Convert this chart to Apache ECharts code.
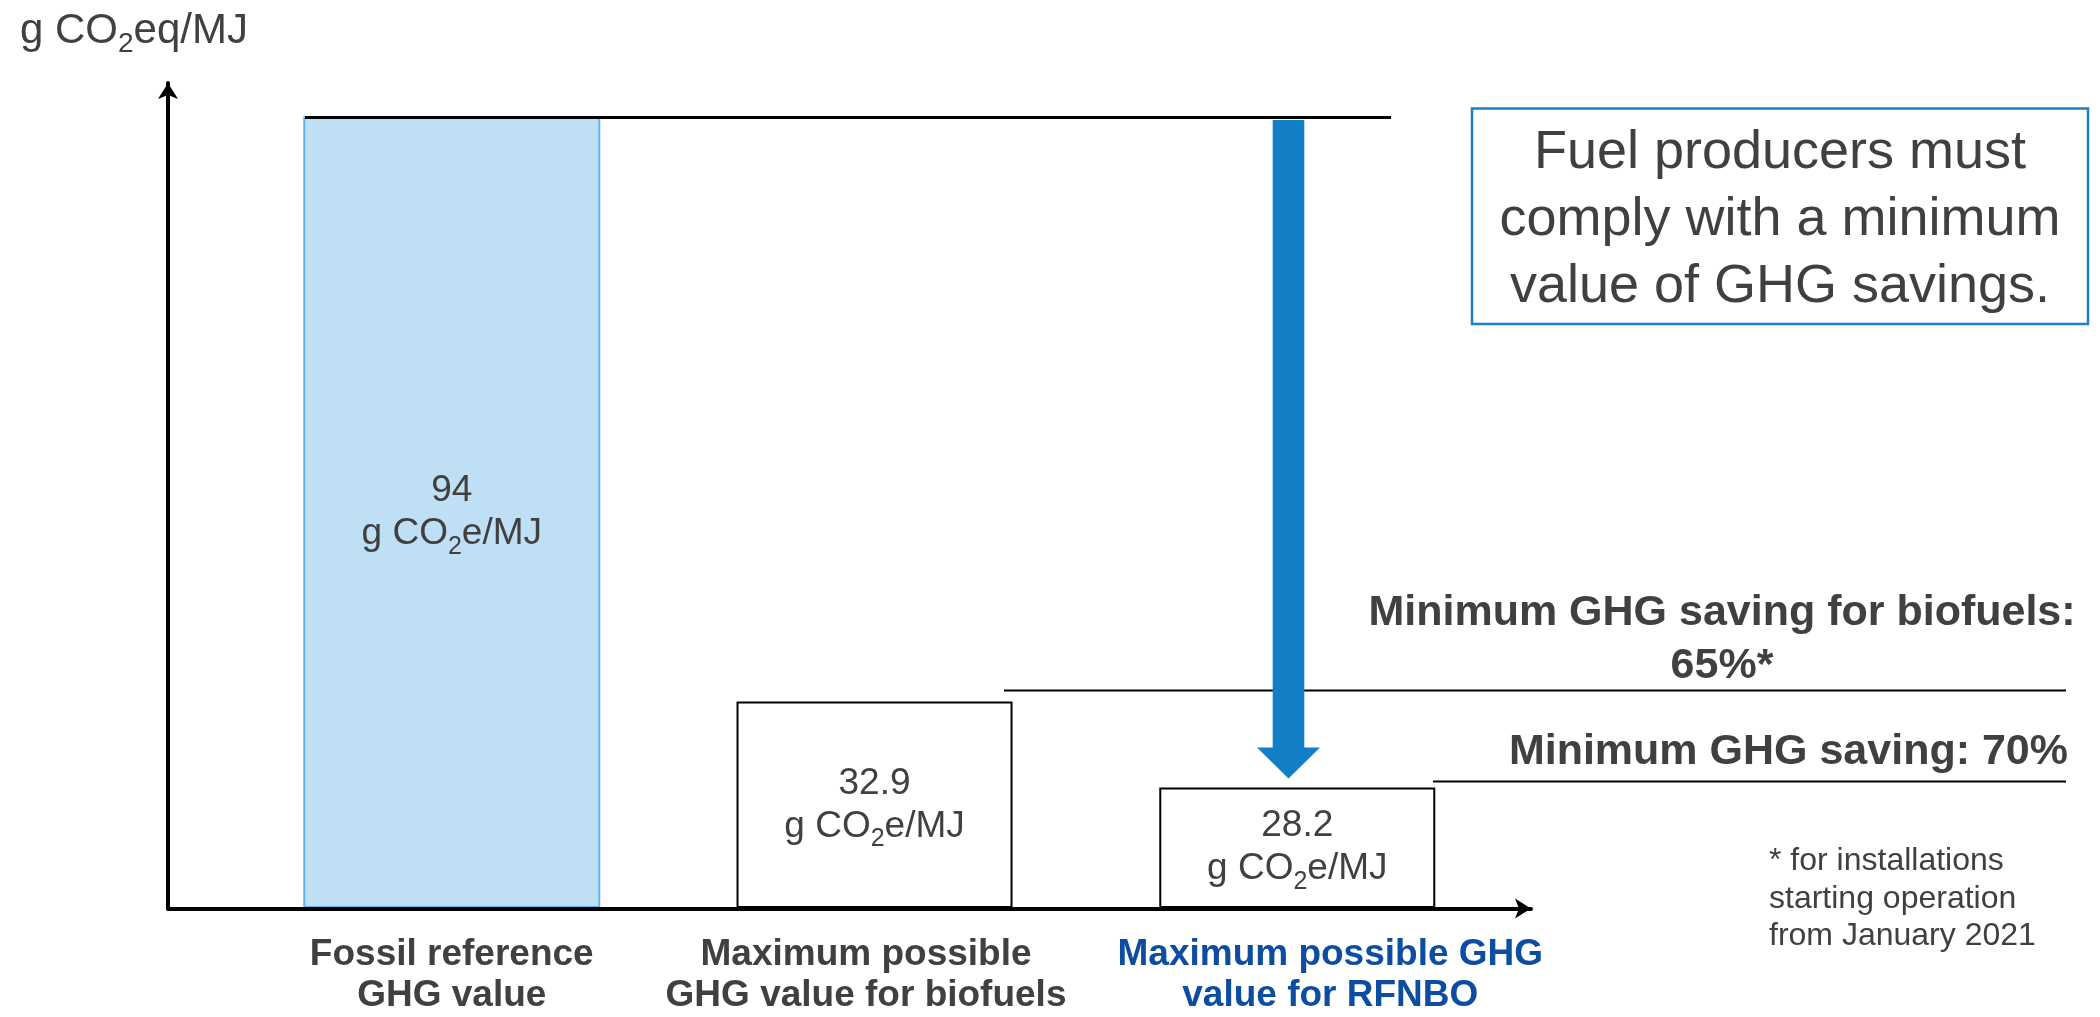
<!DOCTYPE html>
<html>
<head>
<meta charset="utf-8">
<script src="https://cdn.jsdelivr.net/npm/echarts@6/dist/echarts.min.js"></script>
<style>
html,body{margin:0;padding:0;background:#ffffff;}
#chart{width:2100px;height:1017px;}
</style>
</head>
<body>
<div id="chart"></div>
<script>
// ---- data ----
const categories = ['Fossil reference\nGHG value', 'Maximum possible\nGHG value for biofuels', 'Maximum possible GHG\nvalue for RFNBO'];
const values = [94, 32.9, 28.2];
const valueLabels = ['94', '32.9', '28.2'];
const thresholdLabels = ['Minimum GHG saving for biofuels:\n65%*', 'Minimum GHG saving: 70%'];
const thresholdValues = [32.9, 28.2];
const boxText = 'Fuel producers must\ncomply with a minimum\nvalue of GHG savings.';
const footnote = '* for installations\nstarting operation\nfrom January 2021';

// ---- style ----
const FONT = '"Liberation Sans", Arial, Helvetica, sans-serif';
const GRAY = '#404040';
const BLUE = '#127ec6';
const barStyles = [
  { fill: '#bfdff5', stroke: '#5fb3ee', width: 295 },
  { fill: '#ffffff', stroke: '#000000', width: 274 },
  { fill: '#ffffff', stroke: '#000000', width: 274 }
];
const catLabelStyles = [
  {},
  { padding: [0, 17, 0, 0] },
  { padding: [0, 0, 0, 66], color: '#0c4da2' }
];

function subRich(size, sub, lh, pad, color) {
  return {
    m: { fontSize: size, lineHeight: lh, fontFamily: FONT, fill: color, color: color, verticalAlign: 'middle' },
    s: { fontSize: sub, lineHeight: lh, fontFamily: FONT, fill: color, color: color, verticalAlign: 'middle', padding: [pad, 0, 0, 0] }
  };
}

const chart = echarts.init(document.getElementById('chart'), null, { renderer: 'canvas' });

const axisLineStyle = { color: '#000000', width: 4 };
const Y_MIN = 22.8, Y_MAX = 100;

chart.setOption({
  animation: false,
  backgroundColor: '#ffffff',
  grid: [
    { left: 168, top: 83, right: 569, bottom: 108.5 },
    { left: 240.4, top: 83, width: 1268.25, bottom: 108.5 }
  ],
  xAxis: [
    {
      gridIndex: 0, type: 'category', data: [''], z: 10,
      axisLine: { show: true, onZero: false, symbol: ['none', 'arrow'], symbolSize: [15, 16], lineStyle: axisLineStyle },
      axisTick: { show: false }, axisLabel: { show: false }, splitLine: { show: false }
    },
    {
      gridIndex: 1, type: 'category',
      data: categories.map((c, i) => ({ value: c, textStyle: catLabelStyles[i] })),
      axisLine: { show: false }, axisTick: { show: false }, splitLine: { show: false },
      axisLabel: {
        interval: 0, margin: 27, fontSize: 37, fontWeight: 'bold', fontFamily: FONT,
        color: GRAY, lineHeight: 41.5, align: 'center'
      }
    }
  ],
  yAxis: [
    {
      gridIndex: 0, type: 'log', min: Y_MIN, max: Y_MAX, z: 10,
      axisLine: { show: true, symbol: ['none', 'arrow'], symbolSize: [15, 16], lineStyle: axisLineStyle },
      axisTick: { show: false }, axisLabel: { show: false }, splitLine: { show: false }
    },
    { gridIndex: 1, type: 'log', min: Y_MIN, max: Y_MAX, show: false, splitLine: { show: false } }
  ],
  series: [{
    type: 'custom',
    xAxisIndex: 1, yAxisIndex: 1,
    z: 2,
    data: values.map((v, i) => [i, v]),
    renderItem: function (params, api) {
      const i = params.dataIndex;
      const p = api.coord([api.value(0), api.value(1)]);
      const base = params.coordSys.y + params.coordSys.height;
      const st = barStyles[i];
      return {
        type: 'rect',
        shape: { x: p[0] - st.width / 2, y: p[1], width: st.width, height: base - p[1] },
        style: { fill: st.fill, stroke: st.stroke, lineWidth: 2 },
        textContent: {
          style: {
            text: '{m|' + valueLabels[i] + '}\n{m|g CO}{s|2}{m|e/MJ}',
            rich: subRich(37, 25, 43, 26, GRAY),
            align: 'center'
          }
        },
        textConfig: { position: 'inside' }
      };
    }
  }]
});

function yPx(v) { return chart.convertToPixel({ yAxisIndex: 1 }, v); }

const yTop = yPx(values[0]);
const yT1 = yPx(thresholdValues[0]) - 12;
const yT2 = yPx(thresholdValues[1]) - 7;
const arrowTip = yPx(thresholdValues[1]) - 10;
const arrowX = 1288.5;

chart.setOption({
  graphic: [
    // y axis title
    {
      type: 'text', x: 20, y: 31, z: 20,
      style: {
        text: '{m|g CO}{s|2}{m|eq/MJ}',
        rich: subRich(42, 28, 50, 26, GRAY),
        align: 'left', verticalAlign: 'middle', textAlign: 'left', textVerticalAlign: 'middle'
      }
    },
    // fossil reference line
    { type: 'line', z: 20, shape: { x1: 305, y1: yTop, x2: 1391, y2: yTop }, style: { stroke: '#000000', lineWidth: 3 } },
    // arrow
    {
      type: 'polygon', z: 19,
      shape: {
        points: [
          [arrowX - 15.8, yTop + 2.5], [arrowX + 15.8, yTop + 2.5], [arrowX + 15.8, arrowTip - 31],
          [arrowX + 31.5, arrowTip - 31], [arrowX, arrowTip], [arrowX - 31.5, arrowTip - 31],
          [arrowX - 15.8, arrowTip - 31]
        ]
      },
      style: { fill: BLUE }
    },
    // threshold lines
    { type: 'line', z: 18, shape: { x1: 1004, y1: yT1, x2: 2066, y2: yT1 }, style: { stroke: '#000000', lineWidth: 2 } },
    { type: 'line', z: 18, shape: { x1: 1433, y1: yT2, x2: 2066, y2: yT2 }, style: { stroke: '#000000', lineWidth: 2 } },
    {
      type: 'text', x: 1722, y: yT1 - 51, z: 20,
      style: {
        text: thresholdLabels[0], fontSize: 43, fontWeight: 'bold', fontFamily: FONT, fill: GRAY,
        lineHeight: 52.6, align: 'center', verticalAlign: 'middle', textAlign: 'center', textVerticalAlign: 'middle'
      }
    },
    {
      type: 'text', x: 2068, y: yT2 - 29, z: 20,
      style: {
        text: thresholdLabels[1], fontSize: 43, fontWeight: 'bold', fontFamily: FONT, fill: GRAY,
        align: 'right', verticalAlign: 'middle', textAlign: 'right', textVerticalAlign: 'middle'
      }
    },
    // message box
    {
      type: 'rect', z: 18,
      shape: { x: 1472, y: 108.5, width: 616, height: 215.5 },
      style: { fill: '#ffffff', stroke: '#1f7fc4', lineWidth: 2.5 }
    },
    {
      type: 'text', x: 1780, y: 220, z: 20,
      style: {
        text: boxText, fontSize: 54, fontFamily: FONT, fill: GRAY, lineHeight: 67,
        align: 'center', verticalAlign: 'middle', textAlign: 'center', textVerticalAlign: 'middle'
      }
    },
    // footnote
    {
      type: 'text', x: 1769, y: 899, z: 20,
      style: {
        text: footnote, fontSize: 32, fontFamily: FONT, fill: GRAY, lineHeight: 37.5,
        align: 'left', verticalAlign: 'middle', textAlign: 'left', textVerticalAlign: 'middle'
      }
    }
  ]
});
</script>
</body>
</html>
